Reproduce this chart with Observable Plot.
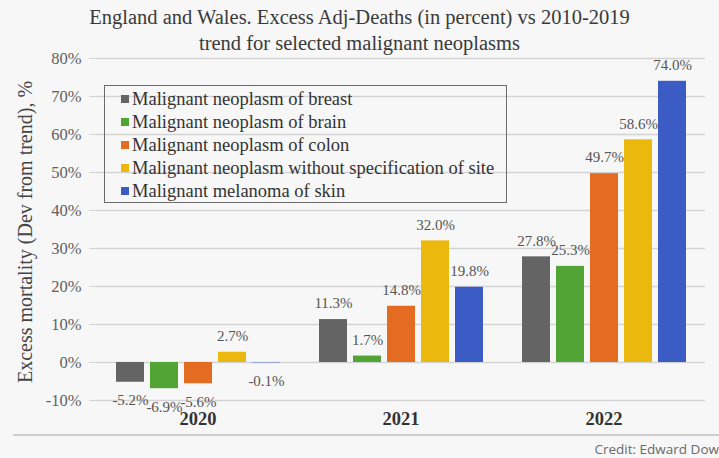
<!DOCTYPE html>
<html>
<head>
<meta charset="utf-8">
<script src="https://cdn.jsdelivr.net/npm/d3@7"></script>
<script src="https://cdn.jsdelivr.net/npm/@observablehq/plot@0.6"></script>
<style>
  html, body { margin: 0; padding: 0; }
  #wrap { position: relative; width: 719px; height: 458px; background: #f7f7f7; overflow: hidden; font-family: "Liberation Serif", "Times New Roman", serif; }
  #title { height: 50px; box-sizing: border-box; padding-top: 4px; text-align: center; font-size: 20.5px; line-height: 26px; color: #3a3a3a; white-space: nowrap; }
  #chart { position: relative; height: 408px; }
  #ylabel { position: absolute; left: 25px; top: 232px; transform: translate(-50%, -50%) rotate(-90deg); white-space: nowrap; font-size: 20px; color: #444; }
  #legend { position: absolute; left: 104px; top: 85px; width: 403px; height: 118px; box-sizing: border-box; border: 1.5px solid #6b6b6b; padding: 2px 0 0 16px; }
  .item { height: 23px; line-height: 23px; font-size: 18.5px; color: #333; white-space: nowrap; }
  .sw { display: inline-block; width: 8px; height: 8px; margin-right: 3px; vertical-align: 2px; }
  #rule { position: absolute; left: 13px; right: 0; top: 434px; height: 1.5px; background: #cfcfcf; }
  #credit { position: absolute; right: 0px; top: 440px; font-family: "Open Sans", sans-serif; font-size: 13.5px; color: #6a6a6a; white-space: nowrap; }
</style>
</head>
<body>
<div id="wrap">
  <div id="title">England and Wales. Excess Adj-Deaths (in percent) vs 2010-2019<br>trend for selected malignant neoplasms</div>
  <div id="chart"></div>
  <div id="ylabel">Excess mortality (Dev from trend), %</div>
  <div id="legend"></div>
  <div id="rule"></div>
  <div id="credit">Credit: Edward Dow</div>
</div>
<script>
const years = ["2020", "2021", "2022"];
const series = [
  "Malignant neoplasm of breast",
  "Malignant neoplasm of brain",
  "Malignant neoplasm of colon",
  "Malignant neoplasm without specification of site",
  "Malignant melanoma of skin"
];
const colors = ["#646464", "#52a535", "#e46c22", "#ebb80e", "#3b5cc4"];
const values2020 = [-5.2, -6.9, -5.6, 2.7, -0.1];
const values2021 = [11.3, 1.7, 14.8, 32.0, 19.8];
const values2022 = [27.8, 25.3, 49.7, 58.6, 74.0];
const yTicks = [-10, 0, 10, 20, 30, 40, 50, 60, 70, 80];

const byYear = [values2020, values2021, values2022];
const data = [];
years.forEach((yr, i) => series.forEach((s, j) => data.push({year: yr, series: s, value: byYear[i][j]})));

const fmt = d => d.value.toFixed(1) + "%";

const chart = Plot.plot({
  width: 719,
  height: 408,
  marginLeft: 95,
  marginRight: 14,
  marginTop: 8,
  marginBottom: 58,
  style: {background: "transparent", fontFamily: "'Liberation Serif', 'Times New Roman', serif", overflow: "visible"},
  fx: {domain: years, padding: 0, label: null, axis: null},
  x: {domain: series, paddingInner: 0.19, paddingOuter: 0.58, axis: null},
  y: {domain: [-10, 80], axis: null},
  color: {domain: series, range: colors},
  marks: [
    Plot.gridY(yTicks, {stroke: "#d4d4d4", strokeOpacity: 1, strokeWidth: 1.3}),
    Plot.axisY(yTicks, {
      tickSize: 7, tickPadding: 8, stroke: "#d4d4d4", fontSize: 16.5, fill: "#606060",
      tickFormat: d => d + "%", label: null
    }),
    Plot.axisFx({tickSize: 0, tickPadding: 11, fontSize: 18.5, fontWeight: "bold", fill: "#333", label: null, anchor: "bottom"}),
    Plot.barY(data, {fx: "year", x: "series", y: "value", fill: "series"}),
    Plot.text(data.filter(d => d.value >= 0), {fx: "year", x: "series", y: "value", text: fmt, dy: -16, fontSize: 15, fill: "#555"}),
    Plot.text(data.filter(d => d.value < 0), {fx: "year", x: "series", y: "value", text: fmt, dy: 18, fontSize: 15, fill: "#555"})
  ]
});
document.getElementById("chart").appendChild(chart);

const legend = d3.select("#legend");
series.forEach((s, j) => {
  const it = legend.append("div").attr("class", "item");
  it.append("span").attr("class", "sw").style("background", colors[j]);
  it.append("span").text(s);
});
</script>
</body>
</html>
